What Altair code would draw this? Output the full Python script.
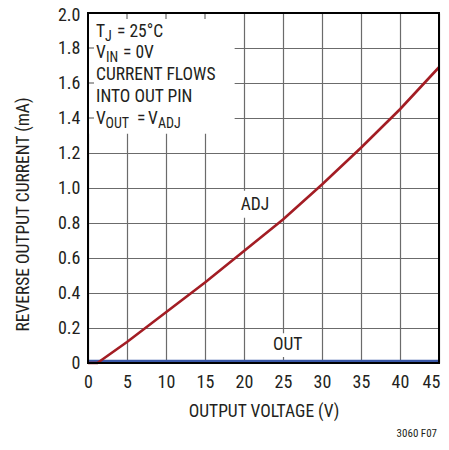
import altair as alt
import pandas as pd

# ---- data ----
adj_v = [0, 1.2, 5, 10, 15, 20, 25, 30, 35, 40, 45]
adj_i = [0, 0, 0.12, 0.29, 0.46, 0.64, 0.82, 1.02, 1.23, 1.45, 1.69]
out_v = [0, 45]
out_i = [0.008, 0.008]

x_ticks = [0, 5, 10, 15, 20, 25, 30, 35, 40, 45]
y_ticks = [0, 0.2, 0.4, 0.6, 0.8, 1.0, 1.2, 1.4, 1.6, 1.8, 2.0]

FONT = "Roboto Condensed, DejaVu Sans Condensed, Liberation Sans Narrow, Roboto, sans-serif"
TXT = "#231f20"
GRID = "#6b6b6b"
W, H = 351, 350

adj_df = pd.DataFrame({"v": adj_v, "i": adj_i})
out_df = pd.DataFrame({"v": out_v, "i": out_i})

xs = alt.Scale(domain=[0, 45], nice=False, zero=False)
ys = alt.Scale(domain=[0, 2.0], nice=False, zero=False)

x_axis = alt.Axis(values=x_ticks, title="OUTPUT VOLTAGE (V)", grid=True, ticks=False,
                  domain=False, labelPadding=10, titlePadding=11, labelFontSize=18,
                  titleFontSize=17.5, labelFont=FONT, titleFont=FONT, labelColor=TXT,
                  titleColor=TXT, titleFontWeight="normal", gridColor=GRID,
                  gridWidth=1.2, labelFlush=False, labelOverlap=False,
                  labelOffset={"condition": {"test": "datum.value == 45", "value": -8}, "value": 0})
y_axis = alt.Axis(values=y_ticks, title="REVERSE OUTPUT CURRENT (mA)", grid=True, ticks=False,
                  domain=False, labelPadding=8, labelFontSize=18, titleFontSize=17.5,
                  labelFont=FONT, titleFont=FONT, labelColor=TXT, titleColor=TXT,
                  titleFontWeight="normal", gridColor=GRID, gridWidth=1.2,
                  labelExpr="datum.value == 0 ? '0' : format(datum.value, '.1f')",
                  titleAngle=270, titleAlign="center", titleBaseline="middle",
                  titleX=-65, titleY=201, labelFlush=False, labelOverlap=False,
                  labelOffset={"condition": {"test": "datum.value == 2", "value": 2}, "value": 0})


def X(field):
    return alt.X(field, scale=xs, axis=x_axis)


def Y(field):
    return alt.Y(field, scale=ys, axis=y_axis)


# white label boxes (data coords)
box_df = pd.DataFrame({
    "x": [0, 19.3, 23.4], "x2": [18.8, 23.6, 28.2],
    "y": [1.31, 0.83, 0.035], "y2": [2.0, 0.985, 0.17],
})
boxes = alt.Chart(box_df).mark_rect(fill="white").encode(
    x=X("x:Q"), x2="x2", y=Y("y:Q"), y2="y2")

# short inner ticks inside the legend box
tx_df = pd.DataFrame({"v": [5, 10, 15]})
ty_df = pd.DataFrame({"i": [1.4, 1.6, 1.8]})
ticks_x = alt.Chart(tx_df).mark_rule(color=GRID, strokeWidth=1.2).encode(
    x=X("v:Q"), y=alt.value(0), y2=alt.value(6))
ticks_y = alt.Chart(ty_df).mark_rule(color=GRID, strokeWidth=1.2).encode(
    y=Y("i:Q"), x=alt.value(0), x2=alt.value(6))

out_line = alt.Chart(out_df).mark_line(color="#3a58a8", strokeWidth=3.5).encode(
    x=X("v:Q"), y=Y("i:Q"))
adj_line = alt.Chart(adj_df).mark_line(color="#a31d24", strokeWidth=2.6).encode(
    x=X("v:Q"), y=Y("i:Q"))

frame = alt.Chart(out_df).mark_rect(fillOpacity=0, stroke="black", strokeWidth=2).encode(
    x=alt.value(0), x2=alt.value(W), y=alt.value(0), y2=alt.value(H))

# annotation text (pixel positions inside plot)
MS, SS = 17.5, 14
ann = [
    # text, x, y(baseline), size
    ("T", 8, 23.5, MS), ("J", 17, 27.5, SS), ("= 25°C", 29, 23.5, MS),
    ("V", 8, 45, MS), ("IN", 18, 49, SS), ("= 0V", 35, 45, MS),
    ("CURRENT FLOWS", 8, 66.5, MS),
    ("INTO OUT PIN", 8, 88.5, MS),
    ("V", 8, 110.5, MS), ("OUT", 17.5, 114.5, SS), ("=", 49, 110.5, MS),
    ("V", 60, 110.5, MS), ("ADJ", 70, 114.5, SS),
]
texts = []
for t, x, y, s in ann:
    texts.append(alt.Chart(out_df.head(1)).mark_text(
        text=t, align="left", baseline="alphabetic", font=FONT, fontSize=s, color=TXT
    ).encode(x=alt.value(x), y=alt.value(y)))

lab_df = pd.DataFrame({"v": [21.4, 25.6], "i": [0.872, 0.075], "t": ["ADJ", "OUT"]})
labels = alt.Chart(lab_df).mark_text(align="center", baseline="alphabetic", font=FONT,
                                     fontSize=17.5, color=TXT).encode(
    x=X("v:Q"), y=Y("i:Q"), text="t:N")

footer = alt.Chart(out_df.head(1)).mark_text(
    text="3060 F07", align="right", baseline="alphabetic", font=FONT, fontSize=11, color=TXT
).encode(x=alt.value(349), y=alt.value(424))

chart = alt.layer(boxes, ticks_x, ticks_y, out_line, adj_line, labels, *texts, footer, frame).properties(
    width=W, height=H,
    autosize=alt.AutoSizeParams(type="none"),
    padding={"left": 80, "top": 5, "right": 2, "bottom": 77},
).configure_view(stroke=None).configure(background="white")

chart.save("out.html", embed_options={"renderer": "svg", "actions": False})
